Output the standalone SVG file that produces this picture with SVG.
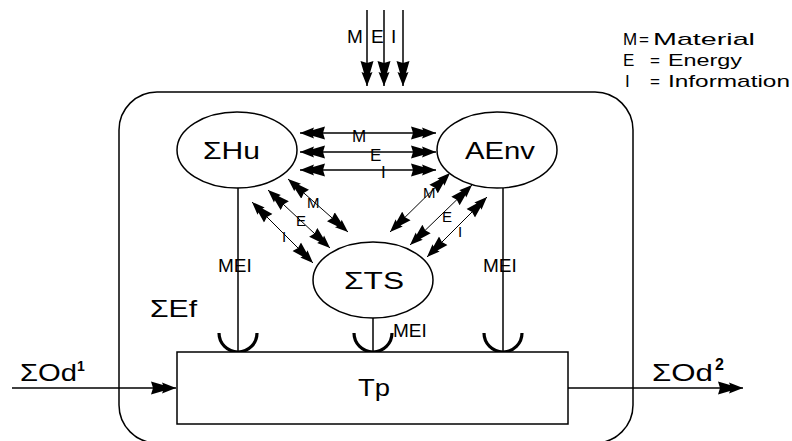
<svg xmlns="http://www.w3.org/2000/svg" width="792" height="441" viewBox="0 0 792 441">
<style>
  .ln{stroke:#000;stroke-width:1.5;fill:none}
  .thin{stroke:#000;stroke-width:1;fill:none}
  .cup{stroke:#000;stroke-width:3.2;fill:none}
  .node{stroke:#000;stroke-width:1.5;fill:#fff}
  text{font-family:"Liberation Sans",Arial,sans-serif;fill:#000}
  .big{font-size:24px}
  .lab{font-size:19px}
  .sm{font-size:17px}
  .xs{font-size:15px}
  .leg{font-size:17px}
</style>
<defs>
  <marker id="ah" markerUnits="userSpaceOnUse" viewBox="0 0 25 14" refX="25" refY="7" markerWidth="25" markerHeight="14" orient="auto-start-reverse">
    <path d="M25,7 L11,1.5 L12,4 L0,0.5 L2,7 L0,13.5 L12,10 L11,12.5 Z" fill="#000"/>
  </marker>
  <marker id="ahs" markerUnits="userSpaceOnUse" viewBox="0 0 25 14" refX="25" refY="7" markerWidth="23" markerHeight="13" orient="auto-start-reverse">
    <path d="M25,7 L11,1.5 L12,4 L0,0.5 L2,7 L0,13.5 L12,10 L11,12.5 Z" fill="#000"/>
  </marker>
</defs>

<g id="system-boundary">
  <rect x="119" y="92" width="514" height="351" rx="38" ry="38" class="ln"/>
</g>

<g id="connectors">
  <line x1="367" y1="10" x2="367" y2="86" class="ln" marker-end="url(#ah)"/>
  <line x1="384" y1="10" x2="384" y2="86" class="ln" marker-end="url(#ah)"/>
  <line x1="403" y1="10" x2="403" y2="86" class="ln" marker-end="url(#ah)"/>
  <line x1="300" y1="133" x2="436" y2="133" class="ln" marker-start="url(#ah)" marker-end="url(#ah)"/>
  <line x1="300" y1="152" x2="436" y2="152" class="ln" marker-start="url(#ah)" marker-end="url(#ah)"/>
  <line x1="300" y1="170" x2="436" y2="170" class="ln" marker-start="url(#ah)" marker-end="url(#ah)"/>
  <line x1="288" y1="179" x2="348" y2="232" class="thin" marker-start="url(#ahs)" marker-end="url(#ahs)"/>
  <line x1="268" y1="190" x2="330" y2="248" class="thin" marker-start="url(#ahs)" marker-end="url(#ahs)"/>
  <line x1="252" y1="202" x2="313" y2="263" class="thin" marker-start="url(#ahs)" marker-end="url(#ahs)"/>
  <line x1="450" y1="173" x2="390" y2="232" class="thin" marker-start="url(#ahs)" marker-end="url(#ahs)"/>
  <line x1="472" y1="185" x2="410" y2="245" class="thin" marker-start="url(#ahs)" marker-end="url(#ahs)"/>
  <line x1="487" y1="197" x2="427" y2="257" class="thin" marker-start="url(#ahs)" marker-end="url(#ahs)"/>
  <line x1="238" y1="188" x2="238" y2="352" class="ln"/>
  <line x1="373" y1="318" x2="373" y2="352" class="ln"/>
  <line x1="503" y1="188" x2="503" y2="352" class="ln"/>
  <path d="M219,333 A19,19 0 0 0 257,333" class="cup"/>
  <path d="M354,333 A19,19 0 0 0 392,333" class="cup"/>
  <path d="M484,333 A19,19 0 0 0 522,333" class="cup"/>
  <line x1="12" y1="388" x2="176" y2="388" class="ln" marker-end="url(#ah)"/>
  <line x1="568" y1="388" x2="743" y2="388" class="ln" marker-end="url(#ah)"/>
</g>

<g id="node-hu">
  <ellipse cx="237" cy="150" rx="60" ry="38" class="node"/>
  <text x="203" y="159" class="big" textLength="57" lengthAdjust="spacingAndGlyphs">ΣHu</text>
</g>
<g id="node-aenv">
  <ellipse cx="497" cy="150" rx="60" ry="38" class="node"/>
  <text x="465" y="159" class="big" textLength="70" lengthAdjust="spacingAndGlyphs">AEnv</text>
</g>
<g id="node-ts">
  <ellipse cx="373" cy="280" rx="60" ry="38" class="node"/>
  <text x="344" y="289" class="big" textLength="60" lengthAdjust="spacingAndGlyphs">ΣTS</text>
</g>
<g id="node-tp">
  <rect x="177" y="352" width="391" height="72" class="node"/>
  <text x="358" y="396" class="big" textLength="32" lengthAdjust="spacingAndGlyphs">Tp</text>
</g>

<g id="labels">
  <text x="347" y="43" class="lab">M</text>
  <text x="371" y="43" class="lab">E</text>
  <text x="391" y="43" class="lab">I</text>

  <text x="352" y="142" class="sm">M</text>
  <text x="370" y="161" class="sm">E</text>
  <text x="381" y="178" class="sm">I</text>

  <text x="307" y="208" class="xs">M</text>
  <text x="296" y="226" class="xs">E</text>
  <text x="282" y="242" class="xs">I</text>

  <text x="423" y="198" class="xs">M</text>
  <text x="442" y="222" class="xs">E</text>
  <text x="458" y="237" class="xs">I</text>

  <text x="218" y="272" class="lab">MEI</text>
  <text x="393" y="337" class="lab">MEI</text>
  <text x="483" y="272" class="lab">MEI</text>

  <text x="150" y="317" class="big" textLength="47" lengthAdjust="spacingAndGlyphs">ΣEf</text>
  <text x="20" y="381" class="big" textLength="57" lengthAdjust="spacingAndGlyphs">ΣOd</text>
  <text x="77" y="371" font-size="14" font-weight="bold">1</text>
  <text x="652" y="381" class="big" textLength="61" lengthAdjust="spacingAndGlyphs">ΣOd</text>
  <text x="715" y="370" font-size="16" font-weight="bold">2</text>
</g>

<g id="legend">
  <text y="45" class="leg"><tspan x="623">M</tspan><tspan x="639">=</tspan><tspan x="653" textLength="102" lengthAdjust="spacingAndGlyphs">Material</tspan></text>
  <text y="66" class="leg"><tspan x="623">E</tspan><tspan x="650">=</tspan><tspan x="668" textLength="74" lengthAdjust="spacingAndGlyphs">Energy</tspan></text>
  <text y="87" class="leg"><tspan x="625">I</tspan><tspan x="650">=</tspan><tspan x="668" textLength="122" lengthAdjust="spacingAndGlyphs">Information</tspan></text>
</g>
</svg>
